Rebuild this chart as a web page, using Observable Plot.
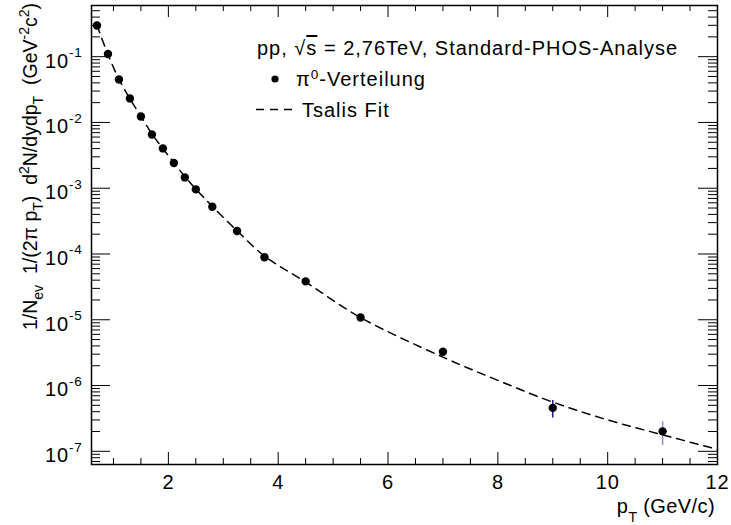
<!DOCTYPE html>
<html>
<head>
<meta charset="utf-8">
<script src="https://cdn.jsdelivr.net/npm/d3@7"></script>
<script src="https://cdn.jsdelivr.net/npm/@observablehq/plot@0.6"></script>
<style>
  html, body { margin: 0; padding: 0; background: white; }
</style>
</head>
<body>
<script>
// ---- data ----
const pT = [0.7, 0.9, 1.1, 1.3, 1.5, 1.7, 1.9, 2.1, 2.3, 2.5, 2.8, 3.25, 3.75, 4.5, 5.5, 7, 9, 11];
const yieldVals = [0.298, 0.110, 0.045, 0.0232, 0.0123, 0.00657, 0.00403, 0.00242, 0.00146, 0.00096,
  0.000524, 0.000224, 8.9e-5, 3.83e-5, 1.08e-5, 3.27e-6, 4.57e-7, 2.01e-7];

const errPT = [9, 11];
const errLow = [3.2e-7, 1.23e-7];
const errHigh = [5.9e-7, 2.8e-7];
const errColor = ["#1c1c8f", "#8a8ae0"];

const fitPT = [0.7, 0.9, 1.1, 1.3, 1.5, 1.7, 1.9, 2.1, 2.3, 2.5, 2.8, 3.25, 3.75, 4.5, 5.5, 7, 8, 9, 10, 11, 12];
const fitVals = [0.30, 0.108, 0.0455, 0.0228, 0.0124, 0.0067, 0.0040, 0.00245, 0.00150, 0.00097,
  0.00053, 0.000226, 9.3e-5, 3.75e-5, 1.08e-5, 2.7e-6, 1.2e-6, 5.6e-7, 3.0e-7, 1.78e-7, 1.07e-7];

const xTickVals = [2, 4, 6, 8, 10, 12];
const xTickLabels = ["2", "4", "6", "8", "10", "12"];
const yTickVals = [1e-7, 1e-6, 1e-5, 1e-4, 1e-3, 1e-2, 1e-1];
const yTickExp = ["-7", "-6", "-5", "-4", "-3", "-2", "-1"];

const xDomain = [0.6, 12];
const yDomain = [6.3e-8, 0.6];

// ---- layout ----
const W = 731, H = 525;
const mL = 91, mR = 14, mT = 5, mB = 61;
const innerW = W - mL - mR, innerH = H - mT - mB;
const FONT = "'Liberation Sans', Arial, Helvetica, sans-serif";

const xMinor = d3.range(1, 12, 0.5).filter(v => !xTickVals.includes(v));
const yMinor = [];
for (let e = -8; e <= 0; e++) for (let m = 2; m <= 9; m++) {
  const v = m * Math.pow(10, e);
  if (v >= yDomain[0] && v <= yDomain[1]) yMinor.push(v);
}

const points = pT.map((x, i) => ({x, y: yieldVals[i]}));
const fit = fitPT.map((x, i) => ({x, y: fitVals[i]}));
const errs = errPT.map((x, i) => ({x, lo: errLow[i], hi: errHigh[i], c: errColor[i]}));

const plot = Plot.plot({
  width: W, height: H,
  marginLeft: mL, marginRight: mR, marginTop: mT, marginBottom: mB,
  style: {fontFamily: FONT, fontSize: "20px", background: "white", color: "black"},
  x: {domain: xDomain},
  y: {type: "log", domain: yDomain},
  marks: [
    // inward ticks, bottom & top
    Plot.tickX(xTickVals, {x: d => d, insetTop: innerH - 12, stroke: "black", strokeWidth: 1}),
    Plot.tickX(xMinor, {x: d => d, insetTop: innerH - 6, stroke: "black", strokeWidth: 1}),
    Plot.tickX(xTickVals, {x: d => d, insetBottom: innerH - 12, stroke: "black", strokeWidth: 1}),
    Plot.tickX(xMinor, {x: d => d, insetBottom: innerH - 6, stroke: "black", strokeWidth: 1}),
    // inward ticks, left & right
    Plot.tickY(yTickVals, {y: d => d, insetRight: innerW - 19, stroke: "black", strokeWidth: 1}),
    Plot.tickY(yMinor, {y: d => d, insetRight: innerW - 9, stroke: "black", strokeWidth: 1}),
    Plot.tickY(yTickVals, {y: d => d, insetLeft: innerW - 19, stroke: "black", strokeWidth: 1}),
    Plot.tickY(yMinor, {y: d => d, insetLeft: innerW - 9, stroke: "black", strokeWidth: 1}),
    Plot.axisX(xTickVals, {tickSize: 0, tickPadding: 10, fontSize: 20,
      tickFormat: d => xTickLabels[xTickVals.indexOf(d)], label: null}),
    Plot.axisY(yTickVals, {tickSize: 0, tickPadding: 9, fontSize: 20, dy: 4.5,
      tickFormat: d => "10^" + yTickExp[yTickVals.indexOf(d)], label: null}),
    Plot.line(fit, {x: "x", y: "y", stroke: "black", strokeWidth: 1.5,
      strokeDasharray: "8,6", curve: "catmull-rom"}),
    Plot.ruleX(errs, {x: "x", y1: "lo", y2: "hi", stroke: "c", strokeWidth: 1.5}),
    Plot.dot(points, {x: "x", y: "y", r: 4.2, fill: "black", stroke: "none"}),
    Plot.frame({stroke: "black", strokeWidth: 1.5})
  ]
});

document.body.appendChild(plot);
const svg = d3.select(plot);

// superscripts for y tick labels
svg.selectAll('g[aria-label="y-axis tick label"] text').each(function() {
  const t = this.textContent;
  const [base, exp] = t.split("^");
  const sel = d3.select(this);
  sel.text(base).style("letter-spacing", "0.8px");
  sel.append("tspan").attr("dy", -10.6).style("font-size", "13.5px").text(exp);
});
svg.selectAll('g[aria-label="x-axis tick label"] text').style("letter-spacing", "0.8px");

// rich text helper: parts = [[text, kind]] kind: n | sub | sup
function rich(sel, parts, baseSize, subSize, subOff, supOff) {
  let cur = 0;
  for (const [s, kind] of parts) {
    const target = kind === "sub" ? subOff : kind === "sup" ? -supOff : 0;
    const ts = sel.append("tspan").text(s);
    if (target !== cur) ts.attr("dy", target - cur);
    ts.style("font-size", (kind === "n" ? baseSize : subSize) + "px");
    cur = target;
  }
}

// y title
const yt = svg.append("text")
  .attr("transform", "translate(37,3) rotate(-90)")
  .attr("text-anchor", "end")
  .style("font-family", FONT)
  .style("white-space", "pre");
rich(yt, [
  ["1/N", "n"], ["ev", "sub"], ["  1/(2\u03C0 p", "n"], ["T", "sub"], [")  d", "n"], ["2", "sup"],
  ["N/dydp", "n"], ["T", "sub"], ["  (GeV", "n"], ["-2", "sup"], ["c", "n"], ["2", "sup"], [")", "n"]
], 19.5, 14, 6, 8);

// x title
const xt = svg.append("text")
  .attr("x", 715).attr("y", 512.7)
  .attr("text-anchor", "end")
  .style("font-family", FONT)
  .style("letter-spacing", "0.4px")
  .style("white-space", "pre");
rich(xt, [["p", "n"], ["T", "sub"], [" (GeV/c)", "n"]], 20, 14, 9, 8);

// legend
const lg = svg.append("g").style("font-family", FONT).attr("text-anchor", "start");
const h1 = lg.append("text").attr("x", 257).attr("y", 55).attr("text-anchor", "start")
  .style("font-size", "20px").style("letter-spacing", "1px").style("white-space", "pre");
h1.append("tspan").text("pp, \u221A");
h1.append("tspan").style("text-decoration", "overline").text("s");
h1.append("tspan").text(" = 2,76TeV, Standard-PHOS-Analyse");

lg.append("circle").attr("cx", 275).attr("cy", 79).attr("r", 3.6).attr("fill", "black");
const h2 = lg.append("text").attr("x", 296).attr("y", 85.5).attr("text-anchor", "start")
  .style("letter-spacing", "1px").style("white-space", "pre");
rich(h2, [["\u03C0", "n"], ["0", "sup"], ["-Verteilung", "n"]], 20, 13.5, 0, 6.5);

lg.append("line").attr("x1", 256).attr("x2", 292).attr("y1", 109.5).attr("y2", 109.5)
  .attr("stroke", "black").attr("stroke-width", 1.5).attr("stroke-dasharray", "8,6");
lg.append("text").attr("x", 302).attr("y", 116.5).attr("text-anchor", "start")
  .style("font-size", "20px").style("letter-spacing", "1px").text("Tsalis Fit");
</script>
</body>
</html>
